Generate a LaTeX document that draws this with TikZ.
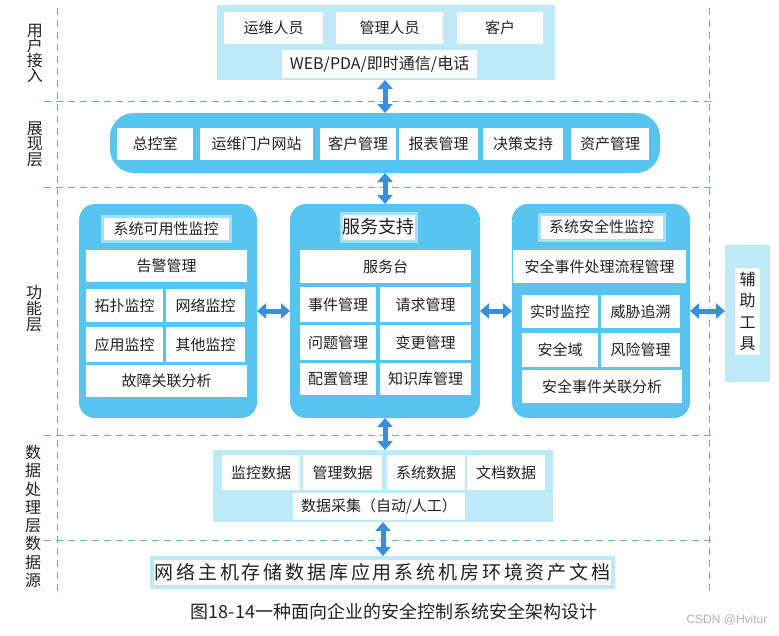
\documentclass[tikz,border=0pt]{standalone}
\usepackage{fontspec}
\setmainfont{Noto Sans CJK SC}
\newfontfamily\widefont[LetterSpace=15]{Noto Sans CJK SC}
\newfontfamily\latinsans{Liberation Sans}
\usetikzlibrary{arrows.meta}
\lineskiplimit=-100pt
\definecolor{lb}{HTML}{BEEAF8}
\definecolor{mb}{HTML}{58C4F0}
\definecolor{hb}{HTML}{A6DFF6}
\definecolor{ab}{HTML}{3B8EDB}
\definecolor{dl}{HTML}{6FA7BF}
\definecolor{tx}{HTML}{222222}
\newcommand\bx[7][]{%
  \node[wb,#1,minimum width={((#5)-(#3))*1pt},minimum height={((#6)-(#4))*1pt}]
    (#2) at ({((#3)+(#5))/2},{((#4)+(#6))/2}) {#7};}
\tikzset{
  wb/.style={fill=white,inner sep=0pt,outer sep=0pt,text=tx,font=\fontsize{15}{18}\selectfont},
  lbox/.style={fill=lb},
  rbox/.style={fill=mb,rounded corners=16pt},
  pbox/.style={fill=mb,rounded corners=24pt},
  hdr/.style={draw=hb,line width=3pt},
  dar/.style={ab,line width=5pt,{Triangle[width=15pt,length=9pt]}-{Triangle[width=15pt,length=9pt]}},
  dash line/.style={dl,line width=0.9pt,dash pattern=on 7pt off 5pt},
  lab/.style={align=center,inner sep=0pt,text=tx},
}
\begin{document}
\begin{tikzpicture}[x=1pt,y=-1pt]
\useasboundingbox (0,0) rectangle (779,635);
\fill[white] (0,0) rectangle (779,635);
% dashed grid
\coordinate (vl1) at (57,8); \coordinate (vl2) at (57,596);
\coordinate (vr1) at (709,8); \coordinate (vr2) at (709,596);
\draw[dash line] (vl1) -- (vl2);
\draw[dash line] (vr1) -- (vr2);
\foreach \yy/\nm in {101/ha,187/hb,435/hc,540/hd}{
  \coordinate (\nm1) at (44,\yy); \coordinate (\nm2) at (713,\yy);
  \draw[dash line] (\nm1) -- (\nm2);}
% layer labels
\node[lab,font=\fontsize{16}{15}\selectfont] (t1) at (35,53) {用\\户\\接\\入};
\node[lab,font=\fontsize{16}{15.5}\selectfont] (t2) at (35,144) {展\\现\\层};
\node[lab,font=\fontsize{16}{16}\selectfont] (t3) at (34,309) {功\\能\\层};
\node[lab,font=\fontsize{16}{18.2}\selectfont] (t4) at (33,489) {数\\据\\处\\理\\层};
\node[lab,font=\fontsize{16}{18.2}\selectfont] (t5) at (33,562) {数\\据\\源};
% background boxes
\bx[lbox]{ub}{217}{5}{555}{80}{}
\bx[pbox]{pb}{110}{113}{660}{173}{}
\bx[rbox]{fl}{79}{204}{257}{418}{}
\bx[rbox]{fm}{290}{204}{480}{418}{}
\bx[rbox]{fr}{512}{204}{690}{418}{}
\bx[lbox]{db}{213}{450}{553}{522}{}
\bx[lbox]{sb}{150}{556}{615}{589}{}
\bx[lbox]{ax}{725}{245}{770}{382}{}
% user layer
\bx{u1}{224}{12}{323}{44}{运维人员}
\bx{u2}{336}{12}{443}{44}{管理人员}
\bx{u3}{457}{12}{543}{44}{客户}
\bx[font=\fontsize{16}{18}\selectfont]{u4}{282}{50}{477}{78}{WEB/PDA/即时通信/电话}
% presentation layer
\bx{p1}{117}{128}{193}{160}{总控室}
\bx{p2}{200}{128}{313}{160}{运维门户网站}
\bx{p3}{320}{128}{396}{160}{客户管理}
\bx{p4}{399}{128}{478}{160}{报表管理}
\bx{p5}{483}{128}{563}{160}{决策支持}
\bx{p6}{571}{128}{649}{160}{资产管理}
% function left
\bx[hdr]{la}{102}{216}{230}{241}{系统可用性监控}
\bx{l1}{86}{250}{247}{282}{告警管理}
\bx{l2}{86}{289}{163}{322}{拓扑监控}
\bx{l3}{166}{289}{245}{322}{网络监控}
\bx{l4}{86}{327}{163}{362}{应用监控}
\bx{l5}{166}{327}{245}{362}{其他监控}
\bx{l6}{86}{365}{247}{397}{故障关联分析}
% function middle
\bx[hdr,font=\fontsize{18}{20}\selectfont]{ma}{341}{213}{416}{241}{服务支持}
\bx{m1}{300}{250}{471}{283}{服务台}
\bx{m2}{300}{287}{376}{322}{事件管理}
\bx{m3}{380}{287}{471}{322}{请求管理}
\bx{m4}{300}{325}{376}{360}{问题管理}
\bx{m5}{380}{325}{471}{360}{变更管理}
\bx{m6}{300}{363}{376}{395}{配置管理}
\bx{m7}{380}{363}{471}{395}{知识库管理}
% function right
\bx[hdr]{ra}{539}{214}{664}{240}{系统安全性监控}
\bx{r1}{513}{250}{686}{283}{安全事件处理流程管理}
\bx{r2}{522}{295}{598}{328}{实时监控}
\bx{r3}{601}{295}{680}{328}{威胁追溯}
\bx{r4}{522}{333}{598}{367}{安全域}
\bx{r5}{601}{333}{680}{367}{风险管理}
\bx{r6}{522}{370}{682}{403}{安全事件关联分析}
% auxiliary tools
\bx[align=center,font=\fontsize{16}{21.5}\selectfont]{ax1}{735}{268}{760}{355}{辅\\助\\工\\具}
% data layer
\bx{d1}{222}{455}{300}{490}{监控数据}
\bx{d2}{303}{455}{382}{490}{管理数据}
\bx{d3}{387}{455}{465}{490}{系统数据}
\bx{d4}{467}{455}{545}{490}{文档数据}
\bx{d5}{293}{493}{465}{520}{数据采集（自动/人工）}
% data source
\bx[font=\fontsize{19}{22}\widefont]{s1}{154}{560}{611}{585}{网络主机存储数据库应用系统机房环境资产文档}
% arrows
\draw[dar] (pb.north |- ub.south) -- (pb.north);
\draw[dar] (pb.south) -- (fm.north);
\draw[dar] (fl.east) -- (fm.west);
\draw[dar] (fm.east) -- (fr.west);
\draw[dar] (fr.east) -- (fr.east -| ax.west);
\draw[dar] (fm.south) -- (fm.south |- db.north);
\draw[dar] (db.south) -- (db.south |- sb.north);
% caption
\node[lab,font=\fontsize{18}{20}\selectfont] (cap) at (394,612) {图18-14一种面向企业的安全控制系统安全架构设计};
\node[lab,text=black!30,font=\fontsize{12}{14}\latinsans] (wm) at (727,620) {CSDN @Hvitur};
\end{tikzpicture}
\end{document}
